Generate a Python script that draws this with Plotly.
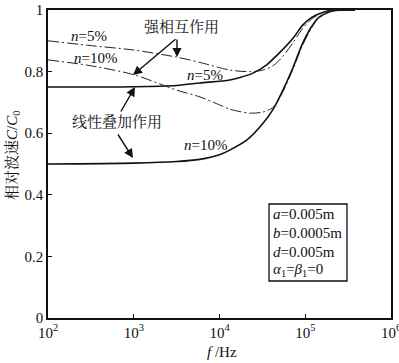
import plotly.graph_objects as go

# ---- data ----
f_lin5 = [100, 1000, 3162, 5890, 13180, 17380, 24550, 35480, 51290, 72440, 93330, 120200, 162200, 208900, 380000]
c_lin5 = [0.750, 0.751, 0.755, 0.763, 0.773, 0.781, 0.795, 0.822, 0.864, 0.909, 0.951, 0.977, 0.993, 1.000, 1.000]

f_lin10 = [100, 1000, 3162, 5890, 10000, 13180, 20890, 32360, 42660, 54950, 72440, 91200, 114800, 141300, 177800, 208900, 380000]
c_lin10 = [0.500, 0.503, 0.508, 0.515, 0.530, 0.545, 0.578, 0.633, 0.680, 0.740, 0.815, 0.886, 0.940, 0.974, 0.990, 0.997, 1.000]

f_str5 = [100, 300, 1000, 3162, 5890, 13180, 22900, 32360, 42660, 55000, 72440, 93330, 120200, 162200, 208900, 380000]
c_str5 = [0.900, 0.885, 0.870, 0.847, 0.830, 0.805, 0.800, 0.805, 0.820, 0.850, 0.895, 0.940, 0.972, 0.992, 1.000, 1.000]

f_str10 = [100, 300, 1000, 3162, 5890, 10000, 13180, 22900, 32360, 42660, 54950, 72440, 91200, 114800, 141300, 177800, 208900, 380000]
c_str10 = [0.838, 0.820, 0.790, 0.740, 0.718, 0.692, 0.678, 0.665, 0.669, 0.685, 0.735, 0.810, 0.880, 0.935, 0.972, 0.990, 0.997, 1.000]

x_tickvals = [1e2, 1e3, 1e4, 1e5, 1e6]
x_ticktext = ["10<sup>2</sup>", "10<sup>3</sup>", "10<sup>4</sup>", "10<sup>5</sup>", "10<sup>6</sup>"]
y_tickvals = [0, 0.2, 0.4, 0.6, 0.8, 1.0]
y_ticktext = ["0", "0.2", "0.4", "0.6", "0.8", "1"]

param_lines = ["<i>a</i>=0.005m", "<i>b</i>=0.0005m", "<i>d</i>=0.005m",
               "<i>α</i><sub>1</sub>=<i>β</i><sub>1</sub>=0"]

FONT = "Liberation Serif, Noto Serif CJK SC, Noto Sans CJK SC, serif"
W, H = 399, 363
L, R, T, B = 48, 8, 10, 45
PW, PH = W - L - R, H - T - B


def px(x):
    return (x - L) / PW


def py(y):
    return (H - B - y) / PH


fig = go.Figure()
solid = dict(color="#111", width=1.6)
dashdot = dict(color="#222", width=1.0, dash="11px,3px,2px,3px")
for fx, cy, st in [(f_lin5, c_lin5, solid), (f_lin10, c_lin10, solid),
                   (f_str5, c_str5, dashdot), (f_str10, c_str10, dashdot)]:
    fig.add_trace(go.Scatter(x=fx, y=cy, mode="lines", line=dict(**st, shape="spline", smoothing=0.8)))

ann = []


def text(x, y, s, size=15, xanchor="center"):
    ann.append(dict(x=px(x), y=py(y), xref="paper", yref="paper", text=s, showarrow=False,
                    font=dict(family=FONT, size=size, color="#111"), xanchor=xanchor, yanchor="middle"))


def arrow(x0, y0, x1, y1):
    ann.append(dict(x=px(x1), y=py(y1), xref="paper", yref="paper", ax=x0 - x1, ay=y0 - y1,
                    axref="pixel", ayref="pixel", text="", showarrow=True, arrowhead=2,
                    arrowsize=1.3, arrowwidth=1.4, arrowcolor="#111"))


text(89, 36, "<i>n</i>=5%")
text(95, 58, "<i>n</i>=10%")
text(181, 27, "强相互作用")
text(205, 75, "<i>n</i>=5%")
text(117, 122, "线性叠加作用")
text(205, 145, "<i>n</i>=10%")
arrow(177, 38, 133, 75)
arrow(177, 38, 177, 57)
arrow(120, 113, 135, 87)
arrow(117, 133, 133, 158)

for ly, s in zip([214, 233, 252, 270], param_lines):
    text(271, ly, s, xanchor="left")

text(222, 352, "<i>f</i> /Hz")
ann.append(dict(x=px(12), y=py(156), xref="paper", yref="paper", showarrow=False, textangle=-90,
                text="相对波速<i>C</i>/<i>C</i><sub>0</sub>", font=dict(family=FONT, size=15, color="#111"),
                xanchor="center", yanchor="middle"))

fig.update_layout(
    width=W, height=H, margin=dict(l=L, r=R, t=T, b=B, autoexpand=False),
    paper_bgcolor="white", plot_bgcolor="white", showlegend=False,
    font=dict(family=FONT, size=15, color="#111"),
    annotations=ann,
    shapes=[dict(type="rect", xref="paper", yref="paper", x0=px(269), x1=px(347), y0=py(281), y1=py(204),
                 line=dict(color="#111", width=1.3), fillcolor="rgba(0,0,0,0)")],
)
fig.update_xaxes(type="log", range=[2, 6], tickvals=x_tickvals, ticktext=x_ticktext,
                 showgrid=False, zeroline=False, showline=True, mirror=True, linecolor="#111",
                 linewidth=1.5, ticks="inside", ticklen=4, tickcolor="#111", tickwidth=1.2,
                 ticklabeloverflow="allow", automargin=False,
                 tickfont=dict(family=FONT, size=15, color="#111"))
fig.update_yaxes(range=[0, 1], tickvals=y_tickvals, ticktext=y_ticktext,
                 showgrid=False, zeroline=False, showline=True, mirror=True, linecolor="#111",
                 linewidth=1.5, ticks="inside", ticklen=4, tickcolor="#111", tickwidth=1.2,
                 automargin=False,
                 tickfont=dict(family=FONT, size=15, color="#111"))

fig.write_html("out.html", config={"displayModeBar": False},
               post_script="document.body.style.margin='0';document.body.style.overflow='hidden';")
